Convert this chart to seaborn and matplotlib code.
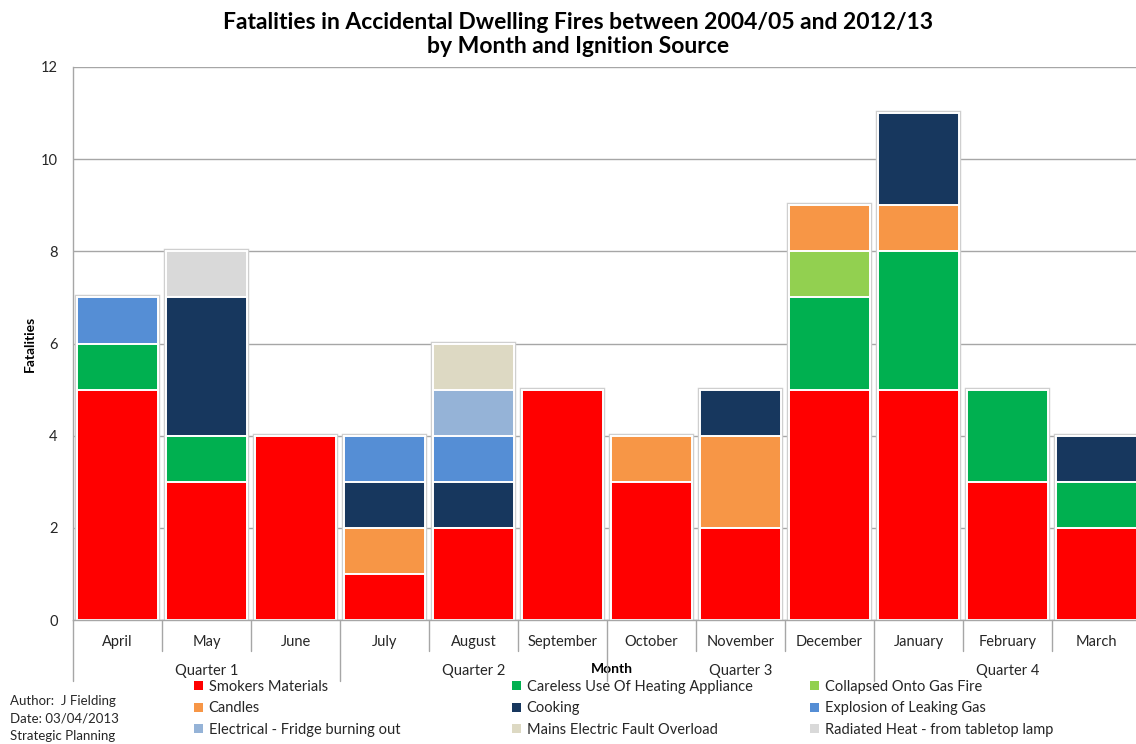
import matplotlib
matplotlib.use("Agg")
import matplotlib.pyplot as plt
import matplotlib.transforms as mtransforms
from matplotlib.patches import Patch
import numpy as np
import pandas as pd
import seaborn as sns

# ---- data -------------------------------------------------------------
months = ["April", "May", "June", "July", "August", "September",
          "October", "November", "December", "January", "February", "March"]
quarters = ["Quarter 1", "Quarter 2", "Quarter 3", "Quarter 4"]

sources = ["Smokers Materials", "Careless Use Of Heating Appliance",
           "Collapsed Onto Gas Fire", "Candles", "Cooking",
           "Explosion of Leaking Gas", "Electrical - Fridge burning out",
           "Mains Electric Fault Overload", "Radiated Heat - from tabletop lamp"]

smokers = [5, 3, 4, 1, 2, 5, 3, 2, 5, 5, 3, 2]
careless = [1, 1, 0, 0, 0, 0, 0, 0, 2, 3, 2, 1]
collapsed = [0, 0, 0, 0, 0, 0, 0, 0, 1, 0, 0, 0]
candles = [0, 0, 0, 1, 0, 0, 1, 2, 1, 1, 0, 0]
cooking = [0, 3, 0, 1, 1, 0, 0, 1, 0, 2, 0, 1]
explosion = [1, 0, 0, 1, 1, 0, 0, 0, 0, 0, 0, 0]
electrical = [0, 0, 0, 0, 1, 0, 0, 0, 0, 0, 0, 0]
mains = [0, 0, 0, 0, 1, 0, 0, 0, 0, 0, 0, 0]
radiated = [0, 1, 0, 0, 0, 0, 0, 0, 0, 0, 0, 0]

colors = ["#FF0000", "#00B050", "#92D050", "#F79646", "#17375E",
          "#558ED5", "#95B3D7", "#DDD9C3", "#D9D9D9"]

# ---- styling ----------------------------------------------------------
sns.set_style("white")
plt.rcParams["font.family"] = ["Lato", "DejaVu Sans"]
text_col = "#262626"
grid_col = "#A6A6A6"

df = pd.DataFrame({"Month": months}).assign(
    **dict(zip(sources, [smokers, careless, collapsed, candles, cooking,
                         explosion, electrical, mains, radiated])))
cum = df[sources].cumsum(axis=1)

fig = plt.figure(figsize=(11.36, 7.44), dpi=100)
W, H = 1136, 744
x0, x1, y0, y1 = 73, 1141, 620, 67
ax = fig.add_axes([x0 / W, 1 - y0 / H, (x1 - x0) / W, (y0 - y1) / H])

# soft outline around each full column
sns.barplot(x=df["Month"], y=cum[sources[-1]], order=months, color="white",
            saturation=1, width=0.9, edgecolor="#CFCFCF", linewidth=3.2, ax=ax)
# stacked segments: draw running totals from the top layer down
for src, col in zip(reversed(sources), reversed(colors)):
    sns.barplot(x=df["Month"], y=cum[src], order=months, color=col,
                saturation=1, width=0.9, edgecolor="white", linewidth=1.4,
                ax=ax)

ax.set_xlim(-0.5, 11.5)
ax.set_ylim(0, 12)
ax.set_yticks(np.arange(0, 13, 2))
ax.yaxis.grid(True, color=grid_col, linewidth=1)
ax.set_axisbelow(True)
for s in ["top", "right"]:
    ax.spines[s].set_visible(False)
for s in ["left", "bottom"]:
    ax.spines[s].set_color(grid_col)
    ax.spines[s].set_linewidth(1)
ax.tick_params(axis="y", length=5, color=grid_col, labelsize=10.5,
               labelcolor=text_col, pad=6)
ax.set_xticks(range(len(months)))
ax.set_xticklabels(months)
ax.tick_params(axis="x", length=0, labelsize=10.5, labelcolor=text_col, pad=11)

# two-level category axis: month dividers and quarter dividers
ax_h = y0 - y1
trans = mtransforms.blended_transform_factory(ax.transData, ax.transAxes)
for b in np.arange(-0.5, 12, 1.0):
    depth = 61 if (b + 0.5) % 3 == 0 else 31
    ax.plot([b, b], [0, -depth / ax_h], transform=trans, clip_on=False,
            color=grid_col, linewidth=1)
for i, q in enumerate(quarters):
    ax.text(3 * i + 1, -51 / ax_h, q, transform=trans, ha="center",
            va="center", fontsize=10.5, color=text_col)

ax.set_xlabel("Month", fontsize=10, fontweight="bold", color="black")
ax.xaxis.set_label_coords((612 - x0) / (x1 - x0), -43 / ax_h)
ax.set_ylabel("Fatalities", fontsize=10, fontweight="bold", color="black")
ax.yaxis.set_label_coords((36 - x0) / (x1 - x0), 0.5)

fig.suptitle("Fatalities in Accidental Dwelling Fires between 2004/05 and 2012/13\n"
             "by Month and Ignition Source", x=578 / W, y=1 - 12 / H, va="top",
             fontsize=16.5, fontweight="bold", color="black", linespacing=1.2)

# legend laid out in three columns
col_x = [194, 512, 810]
for c in range(3):
    idx = [c, c + 3, c + 6]
    handles = [Patch(facecolor=colors[i], edgecolor="none") for i in idx]
    labels = [sources[i] for i in idx]
    fig.legend(handles, labels, loc="upper left",
               bbox_to_anchor=(col_x[c] / W, 1 - 680 / H), frameon=False,
               fontsize=10.5, handlelength=0.6, handleheight=0.6,
               handletextpad=0.4, labelspacing=0.5, borderpad=0,
               borderaxespad=0, labelcolor=text_col)

for k, line in enumerate(["Author:  J Fielding", "Date: 03/04/2013",
                          "Strategic Planning"]):
    fig.text(10 / W, 1 - (701 + 17.5 * k) / H, line, ha="left", va="center",
             fontsize=9.5, color=text_col)

fig.savefig("out.png", dpi=100)
